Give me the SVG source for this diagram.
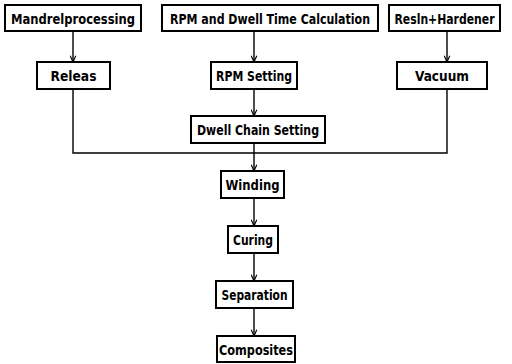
<svg xmlns="http://www.w3.org/2000/svg" width="512" height="364" viewBox="0 0 512 364">
<style>
.box{fill:#fff;stroke:#000;stroke-width:2}
.lbl{font-family:"Liberation Sans Narrow","DejaVu Sans Condensed","Liberation Sans",sans-serif;font-weight:bold;font-size:14px;fill:#000;text-anchor:middle}
.ln{fill:none;stroke:#000;stroke-width:1.4}
</style>
<defs>
<marker id="ah" viewBox="0 0 10 10" refX="10" refY="5" markerWidth="7" markerHeight="7" markerUnits="userSpaceOnUse" orient="auto">
<path d="M1,1 L10,5 L1,9" fill="none" stroke="#000" stroke-width="1.6"/>
</marker>
</defs>
<rect width="512" height="364" fill="#fff"/>
<g id="connectors">
<line class="ln" x1="73" y1="31" x2="73" y2="62" marker-end="url(#ah)"/>
<line class="ln" x1="254" y1="31" x2="254" y2="62" marker-end="url(#ah)"/>
<line class="ln" x1="447" y1="31" x2="447" y2="62" marker-end="url(#ah)"/>
<line class="ln" x1="254" y1="89" x2="254" y2="116" marker-end="url(#ah)"/>
<polyline class="ln" points="73,89 73,153 447,153 447,89"/>
<line class="ln" x1="254" y1="143" x2="254" y2="171" marker-end="url(#ah)"/>
<line class="ln" x1="254" y1="198" x2="254" y2="226" marker-end="url(#ah)"/>
<line class="ln" x1="254" y1="253" x2="254" y2="281" marker-end="url(#ah)"/>
<line class="ln" x1="254" y1="308" x2="254" y2="336" marker-end="url(#ah)"/>
</g>
<g id="mandrel"><rect class="box" x="5" y="5" width="136" height="26"/><text class="lbl" x="73" y="23.5" textLength="124" lengthAdjust="spacingAndGlyphs">Mandrelprocessing</text></g>
<g id="rpmcalc"><rect class="box" x="162" y="5" width="216" height="26"/><text class="lbl" x="270" y="23.5" textLength="200" lengthAdjust="spacingAndGlyphs">RPM and Dwell Time Calculation</text></g>
<g id="resin"><rect class="box" x="389" y="5" width="111" height="26"/><text class="lbl" x="444.5" y="23.5" textLength="100" lengthAdjust="spacingAndGlyphs">Resln+Hardener</text></g>
<g id="releas"><rect class="box" x="37" y="62" width="73" height="27"/><text class="lbl" x="73.5" y="81" textLength="46" lengthAdjust="spacingAndGlyphs">Releas</text></g>
<g id="rpmset"><rect class="box" x="211" y="62" width="86" height="27"/><text class="lbl" x="254" y="81" textLength="76" lengthAdjust="spacingAndGlyphs">RPM Setting</text></g>
<g id="vacuum"><rect class="box" x="397" y="62" width="90" height="27"/><text class="lbl" x="442" y="81" textLength="54" lengthAdjust="spacingAndGlyphs">Vacuum</text></g>
<g id="dwell"><rect class="box" x="191" y="116" width="134" height="27"/><text class="lbl" x="258" y="135" textLength="122" lengthAdjust="spacingAndGlyphs">Dwell Chain Setting</text></g>
<g id="winding"><rect class="box" x="221" y="171" width="63" height="27"/><text class="lbl" x="252.5" y="190" textLength="54" lengthAdjust="spacingAndGlyphs">Winding</text></g>
<g id="curing"><rect class="box" x="228" y="226" width="50" height="27"/><text class="lbl" x="253" y="245" textLength="40" lengthAdjust="spacingAndGlyphs">Curing</text></g>
<g id="separation"><rect class="box" x="216" y="281" width="77" height="27"/><text class="lbl" x="254.5" y="300" textLength="66" lengthAdjust="spacingAndGlyphs">Separation</text></g>
<g id="composites"><rect class="box" x="217" y="336" width="78" height="26"/><text class="lbl" x="256" y="355" textLength="74" lengthAdjust="spacingAndGlyphs">Composites</text></g>
</svg>
